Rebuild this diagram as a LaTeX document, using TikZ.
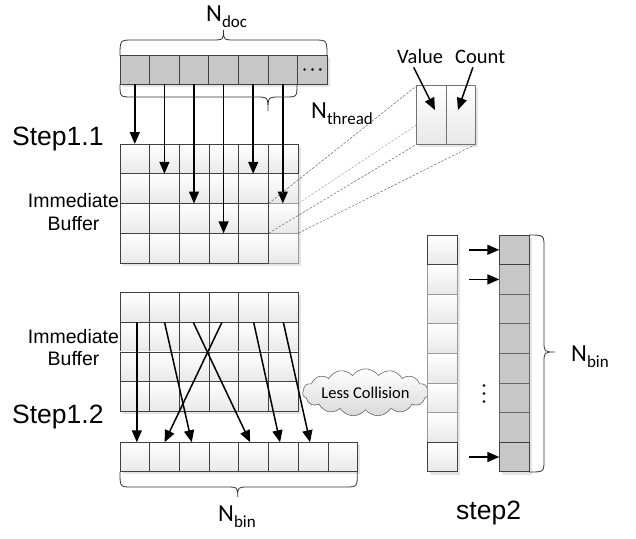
\documentclass[tikz,border=0pt]{standalone}
\usepackage{fontspec}
\newfontfamily\arialf{Liberation Sans}
\newfontfamily\calf{Carlito}
\usetikzlibrary{arrows.meta,shapes.symbols,calc}
\newcommand\Nlab[1]{N\raisebox{-0.25em}{\fontsize{17}{17}\selectfont #1}}
\begin{document}
\begin{tikzpicture}[x=1pt,y=-1pt,
  cellbase/.style={minimum width=29.7pt,minimum height=29.7pt,inner sep=0pt,outer sep=0pt,line width=0.8pt},
  wcell/.style={cellbase,draw=black!75,top color=white,bottom color=black!9},
  lcell/.style={cellbase,draw=black!40,top color=white,bottom color=black!9},
  gcell/.style={cellbase,draw=black!75,fill=black!22},
  mgcell/.style={cellbase,draw=black!60,fill=black!22},
  shadowbox/.style={fill=black!10,draw=none},
  arr/.style={line width=1.5pt,-{Triangle[length=12pt,width=10pt]}},
  dashln/.style={draw=black!60,line width=0.5pt,dash pattern=on 2.5pt off 1.5pt},
  brc/.style={line width=0.8pt,draw=black!80},
  lab/.style={inner sep=0pt,anchor=base west},
  arialbig/.style={font=\arialf\fontsize{26.5}{27}\selectfont},
  arialmid/.style={font=\arialf\fontsize{19.5}{20}\selectfont},
  calN/.style={font=\calf\fontsize{24.5}{25}\selectfont},
  calmid/.style={font=\calf\fontsize{20.5}{21}\selectfont}
]
\useasboundingbox (0,0) rectangle (636,538);

% ---------- shadows ----------
\fill[shadowbox] (122.5,57.5) rectangle (329.5,86.5);
\fill[shadowbox] (122.5,146.5) rectangle (300.5,265.5);
\fill[shadowbox] (122.5,295.2) rectangle (300.5,413.5);
\fill[shadowbox] (122.5,444.8) rectangle (359.8,474.3);
\fill[shadowbox] (430.2,237.5) rectangle (460.2,474.5);
\fill[shadowbox] (501.8,237.5) rectangle (531.5,474.5);
\fill[shadowbox] (419.2,88.2) rectangle (478.2,146.8);

% ---------- top array (N_doc) ----------
\foreach \i in {1,...,7}
  \node[gcell,minimum width=29.6pt,minimum height=29pt] (d\i) at ({105.2+29.6*\i},69.5) {};
\foreach \dx in {-7.8,0,7.8}
  \fill[black!85] ([xshift=\dx pt]d7.center) circle (1.6pt);

% ---------- grid 1 ----------
\foreach \r in {2,3,4}
  \node[lcell,minimum height=29.75pt] (g\r6) at ({105.15+29.7*6},{129.125+29.75*\r}) {};
\foreach \r in {1,...,4}
  \foreach \c in {1,...,5}
    \node[wcell,minimum height=29.75pt] (g\r\c) at ({105.15+29.7*\c},{129.125+29.75*\r}) {};
\node[wcell,minimum height=29.75pt] (g16) at ({105.15+29.7*6},{129.125+29.75}) {};

\draw[arr] (d1.south) -- (d1.south |- g11.north);
\draw[arr] (d2.south) -- (d2.south |- g12.south);
\draw[arr] (d3.south) -- (d3.south |- g23.south);
\draw[arr] (d4.south) -- (d4.south |- g34.south);
\draw[arr] (d5.south) -- (d5.south |- g15.south);
\draw[arr] (d6.south) -- (d6.south |- g26.south);

% ---------- Value / Count box ----------
\draw[dashln] (g36.north west) -- (416.7,85.7);
\draw[dashln,draw=black!35] (g36.north east) -- (475.7,85.7);
\draw[dashln] (g36.south west) -- (416.7,144.3);
\draw[dashln] (g36.south east) -- (475.7,144.3);
\node[cellbase,draw=black!55,top color=white,bottom color=black!9,minimum width=29.5pt,minimum height=58.6pt] (v) at (431.45,115) {};
\node[cellbase,draw=black!55,top color=white,bottom color=black!9,minimum width=29.5pt,minimum height=58.6pt] (cnt) at (460.95,115) {};
\node[lab,calmid] (vl) at (397,63) {Value};
\node[lab,calmid] (cl) at (455,63) {Count};
\draw[arr] ([xshift=-6.5pt,yshift=-4pt]vl.south) -- ([xshift=3.5pt,yshift=5pt]v.center);
\draw[arr] ([xshift=-7.3pt,yshift=-4pt]cl.south) -- ([xshift=-3pt,yshift=5pt]cnt.center);

% ---------- grid 2 ----------
\foreach \r in {1,...,4}
  \foreach \c in {1,...,6}
    \node[wcell,minimum height=29.6pt] (h\r\c) at ({105.15+29.7*\c},{277.9+29.6*\r}) {};

% ---------- bottom array ----------
\foreach \i in {1,...,8}
  \node[wcell,minimum height=29.5pt] (b\i) at ({105.15+29.7*\i},457) {};

\draw[arr] ([xshift=2pt]h21.north) -- ([xshift=2pt]b1.north);
\draw[arr] (h22.north) -- ([xshift=-2.5pt]b3.north);
\draw[arr] ([xshift=-1pt]h23.north) -- ([xshift=-3.5pt]b5.north);
\draw[arr] ([xshift=-2pt]h24.north) -- (b2.north);
\draw[arr] (h25.north) -- ([xshift=-3.3pt]b6.north);
\draw[arr] (h26.north) -- ([xshift=-3pt]b7.north);

% ---------- cloud ----------
\node[cloud,cloud puffs=15,cloud puff arc=110,aspect=3.6,draw=black!60,line width=0.6pt,
      top color=white,bottom color=black!15,minimum width=117pt,minimum height=33pt,inner sep=0pt,
      font=\calf\fontsize{16.5}{17}\selectfont] (cld) at (365.5,392.5) {Less Collision};

% ---------- step 2 ----------
\foreach \i in {2,...,7} {
  \node[lcell,minimum width=30pt,minimum height=29.6pt] (s\i) at (442.7,{220.2+29.6*\i}) {};
  \node[mgcell,minimum height=29.6pt] (t\i) at (514.15,{220.2+29.6*\i}) {};
}
\foreach \i in {1,8} {
  \node[wcell,minimum width=30pt,minimum height=29.6pt] (s\i) at (442.7,{220.2+29.6*\i}) {};
  \node[gcell,minimum height=29.6pt] (t\i) at (514.15,{220.2+29.6*\i}) {};
}
\draw[arr] ([xshift=-30pt]t1.west) -- (t1.west);
\draw[arr] ([xshift=-30pt]t2.west) -- (t2.west);
\draw[arr] ([xshift=-30pt]t8.west) -- (t8.west);
\foreach \yy in {385.5,393.5,401.5}
  \fill[black!85] (484,\yy) circle (1.6pt);

% ---------- braces ----------
\draw[brc] (120,56) .. controls (120,40) .. (133,40) -- (211,40) .. controls (223.5,40) .. (223.5,30)
           .. controls (223.5,40) .. (236,40) -- (314,40) .. controls (327,40) .. (327,56);
\draw[brc] (120,84) .. controls (120,97) .. (132,97) -- (256,97) .. controls (268,97) .. (268,111)
           .. controls (268,97) .. (280,97) -- (285,97) .. controls (297,97) .. (297,84);
\draw[brc] (120,472) .. controls (120,487) .. (132,487) -- (226,487) .. controls (237.7,487) .. (237.7,497)
           .. controls (237.7,487) .. (249,487) -- (345,487) .. controls (357.3,487) .. (357.3,472);
\draw[brc] (529,235) .. controls (544,235) .. (544,247) -- (544,341) .. controls (544,352) .. (555,352)
           .. controls (544,352) .. (544,363) -- (544,460) .. controls (544,472) .. (529,472);

% ---------- labels ----------
\node[lab,calN] (ndoc) at (206,21) {\Nlab{doc}};
\node[lab,calN] (nthr) at (311,118) {\Nlab{thread}};
\node[lab,calN] (nbin1) at (218,521) {\Nlab{bin}};
\node[lab,calN] (nbin2) at (571,361) {\Nlab{bin}};
\node[lab,arialbig] (st11) at (12,145) {Step1.1};
\node[lab,arialbig] (st12) at (12,423) {Step1.2};
\node[lab,arialbig] (st2) at (456,519) {step2};
\node[anchor=base,inner sep=0pt,arialmid] (im1) at (73.5,207.5) {Immediate};
\node[anchor=base,inner sep=0pt,arialmid] (bf1) at (73.5,230) {Buffer};
\node[anchor=base,inner sep=0pt,arialmid] (im2) at (73.5,343.5) {Immediate};
\node[anchor=base,inner sep=0pt,arialmid] (bf2) at (73.5,365) {Buffer};
\end{tikzpicture}
\end{document}
